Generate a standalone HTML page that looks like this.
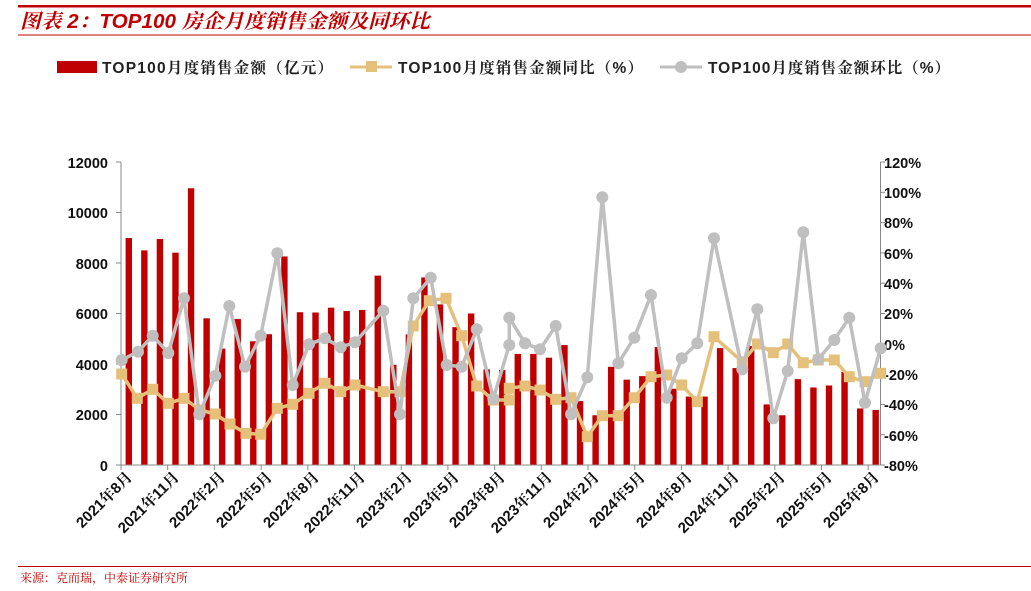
<!DOCTYPE html>
<html><head><meta charset="utf-8"><style>
body{margin:0;background:#fff;}
svg{display:block;font-family:"Liberation Sans","Noto Sans CJK SC",sans-serif;}
</style></head><body>
<svg id="s" width="1031" height="591" viewBox="0 0 1031 591">
<rect x="18" y="5" width="1013" height="2.5" fill="#c00000"/>
<text x="20" y="28" font-size="20" font-weight="bold" font-style="italic" fill="#c00000" textLength="410" lengthAdjust="spacingAndGlyphs" font-family="'Liberation Sans','Noto Serif CJK SC',serif">图表 2：TOP100 房企月度销售金额及同环比</text>
<rect x="18" y="34.5" width="1013" height="1" fill="#c00000"/>
<rect x="57" y="61" width="40" height="12" fill="#c00000"/>
<g font-family="'Liberation Sans','Noto Serif CJK SC',serif">
<text x="102" y="73" font-size="15.5" font-weight="bold" fill="#222" textLength="231" lengthAdjust="spacing">TOP100月度销售金额（亿元）</text>
<text x="398" y="73" font-size="15.5" font-weight="bold" fill="#222" textLength="245" lengthAdjust="spacing">TOP100月度销售金额同比（%）</text>
<text x="708" y="73" font-size="15.5" font-weight="bold" fill="#222" textLength="242" lengthAdjust="spacing">TOP100月度销售金额环比（%）</text>
</g>
<line x1="350" y1="67" x2="392" y2="67" stroke="#e5c07b" stroke-width="3"/><rect x="366" y="61" width="11" height="11" fill="#e5c07b"/>
<line x1="660" y1="67" x2="702" y2="67" stroke="#bfbfbf" stroke-width="3"/><circle cx="681" cy="67" r="6" fill="#bfbfbf"/>
<g id="bars"></g>
<g stroke="#888" stroke-width="1">
<line x1="121" y1="162" x2="121" y2="465"/>
<line x1="880.5" y1="162" x2="880.5" y2="465"/>
<line x1="121" y1="465" x2="880.5" y2="465"/>
</g>
<g id="ticks" stroke="#888" stroke-width="1"></g>
<g font-size="14.5" font-weight="bold" fill="#111" text-anchor="end">
<text x="108" y="168">12000</text><text x="108" y="218">10000</text><text x="108" y="269">8000</text><text x="108" y="319">6000</text><text x="108" y="370">4000</text><text x="108" y="420">2000</text><text x="108" y="471">0</text>
</g>
<g font-size="14.5" font-weight="bold" fill="#111">
<text x="884" y="168">120%</text><text x="884" y="198">100%</text><text x="884" y="228">80%</text><text x="884" y="259">60%</text><text x="884" y="289">40%</text><text x="884" y="319">20%</text><text x="884" y="350">0%</text><text x="884" y="380">-20%</text><text x="884" y="410">-40%</text><text x="884" y="441">-60%</text><text x="884" y="471">-80%</text>
</g>
<polyline fill="none" stroke="#e5c07b" stroke-width="3.5" points="121.7,374 137.3,398.3 152.7,389.3 168.3,403.3 184,398.3 200,410 215.3,414 230,424 246,433.3 260.7,434.3 277.3,408.3 292.7,404.3 309,393.3 325,383.3 340.7,391.7 355,385 383.3,391.7 400,391.7 413.3,326 429.3,300.7 446,298.3 461.7,335.7 476.7,386 493.3,400 509.3,400 509.3,388.3 525,386 540,390 555.7,399.3 571,397.7 587.3,436.7 602.3,415.7 618.3,415.7 634.3,397.7 651,376.7 666.7,375 681.7,385 697.3,401.7 714,336.7 742.3,361.7 757.3,344 773.3,352.7 787.7,344 803.3,362.7 818.3,360 834.3,360 849.3,376.7 865,381.7 880.7,373.3" id="yl"/>
<g id="ym" fill="#e5c07b"></g>
<polyline fill="none" stroke="#bfbfbf" stroke-width="3.5" id="gl" points="121.7,360 138,351.7 152.7,335.7 168.3,353 184,298.3 199.3,414.3 215.3,375.7 229.3,306 245,366.7 260.7,335.7 277.3,253.3 292.7,385 309,344.3 325,338.3 340.7,347.3 355,342.3 383.3,310.7 400,414.3 413.3,298.3 430.7,277.7 446.7,365 461.7,366.7 476.7,329.3 493.3,398.7 509.3,345 509.3,317.7 525,343.3 540,349.3 555.7,326 571,414.3 587.3,377.3 602.3,197.3 618.3,363.3 634.3,337.7 651,295 666.7,397.7 681.7,358.3 697.3,343.3 714,238.3 742.3,369.3 757.3,309.3 773.3,418.3 787.7,371 803.3,232.3 818.3,359.3 834.3,340 849.3,317.7 865,402.7 880.7,348.3"/>
<g id="gm" fill="#bfbfbf"></g>
<g font-size="15" font-weight="bold" fill="#111" text-anchor="end" font-family="'Liberation Sans','Noto Serif CJK SC',serif">
<text transform="translate(133,478) rotate(-45)">2021年8月</text>
<text transform="translate(180,478) rotate(-45)">2021年11月</text>
<text transform="translate(226,478) rotate(-45)">2022年2月</text>
<text transform="translate(273,478) rotate(-45)">2022年5月</text>
<text transform="translate(320,478) rotate(-45)">2022年8月</text>
<text transform="translate(366,478) rotate(-45)">2022年11月</text>
<text transform="translate(413,478) rotate(-45)">2023年2月</text>
<text transform="translate(460,478) rotate(-45)">2023年5月</text>
<text transform="translate(506,478) rotate(-45)">2023年8月</text>
<text transform="translate(553,478) rotate(-45)">2023年11月</text>
<text transform="translate(600,478) rotate(-45)">2024年2月</text>
<text transform="translate(646,478) rotate(-45)">2024年5月</text>
<text transform="translate(693,478) rotate(-45)">2024年8月</text>
<text transform="translate(740,478) rotate(-45)">2024年11月</text>
<text transform="translate(786,478) rotate(-45)">2025年2月</text>
<text transform="translate(833,478) rotate(-45)">2025年5月</text>
<text transform="translate(880,478) rotate(-45)">2025年8月</text>
</g>
<rect x="18" y="566" width="1013" height="1" fill="#c00000"/>
<text x="20" y="582" font-size="12" fill="#c00000" font-family="'Liberation Serif','Noto Serif CJK SC',serif">来源：克而瑞，中泰证券研究所</text>
</svg>
<script>
var v=[8990,8500,8950,8410,10960,5810,4610,5780,4900,5180,8260,6050,6040,6230,6100,6140,7500,3970,5170,7430,6360,5460,6000,3790,3760,4400,4400,4250,4750,2530,1970,3890,3380,3520,4670,3020,2710,2710,4630,3840,4710,2400,1970,3400,3070,3150,3680,2240,2180];
var ns="http://www.w3.org/2000/svg",b=document.getElementById('bars');
v.forEach(function(d,i){var x=128.8+15.56*i,h=d/1000*25.25;var r=document.createElementNS(ns,'rect');r.setAttribute('x',x-3.2);r.setAttribute('y',465-h);r.setAttribute('width',6.4);r.setAttribute('height',h);r.setAttribute('fill','#c00000');b.appendChild(r);});
var t=document.getElementById('ticks');
for(var i=0;i<=16;i++){var x=121+46.7*i;var l=document.createElementNS(ns,'line');l.setAttribute('x1',x);l.setAttribute('x2',x);l.setAttribute('y1',465);l.setAttribute('y2',470);t.appendChild(l);}
for(var k=0;k<=6;k++){var y=465-k*50.5;var l=document.createElementNS(ns,'line');l.setAttribute('x1',116);l.setAttribute('x2',121);l.setAttribute('y1',y);l.setAttribute('y2',y);t.appendChild(l);}
for(var k=0;k<=10;k++){var y=465-k*30.3;var l=document.createElementNS(ns,'line');l.setAttribute('x1',880.5);l.setAttribute('x2',885);l.setAttribute('y1',y);l.setAttribute('y2',y);t.appendChild(l);}
function pts(id){return document.getElementById(id).getAttribute('points').trim().split(/\s+/).map(function(p){return p.split(',').map(Number);});}
pts('yl').forEach(function(p){var r=document.createElementNS(ns,'rect');r.setAttribute('x',p[0]-5.5);r.setAttribute('y',p[1]-5.5);r.setAttribute('width',11);r.setAttribute('height',11);document.getElementById('ym').appendChild(r);});
pts('gl').forEach(function(p){var c=document.createElementNS(ns,'circle');c.setAttribute('cx',p[0]);c.setAttribute('cy',p[1]);c.setAttribute('r',6);document.getElementById('gm').appendChild(c);});
</script>
</body></html>
